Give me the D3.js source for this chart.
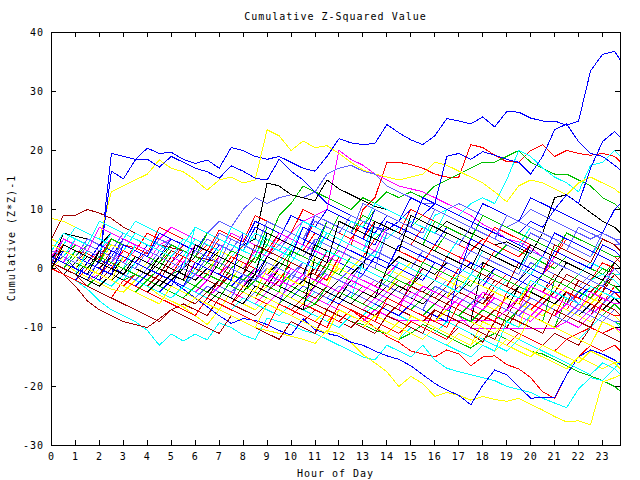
<!DOCTYPE html>
<html><head><meta charset="utf-8">
<script src="https://cdn.jsdelivr.net/npm/d3@7"></script>
<style>
body{margin:0;background:#fff}
text{font-family:"DejaVu Sans Mono",monospace;font-size:10px;letter-spacing:1px;fill:#000}
</style>
</head><body><svg id="chart" width="640" height="480"></svg>
<script>
const hours = [0,0.5,1,1.5,2,2.5,3,3.5,4,4.5,5,5.5,6,6.5,7,7.5,8,8.5,9,9.5,10,10.5,11,11.5,12,12.5,13,13.5,14,14.5,15,15.5,16,16.5,17,17.5,18,18.5,19,19.5,20,20.5,21,21.5,22,22.5,23,23.5,23.75];

const s00=[2,1,0,2,1,0,-1,1,0,-1,2,1,0,3,2,1,4,3,2,5,4,3,2,6,5,4,10,12,18,18,17.6,17,16,15.5,15.5,21,20.5,19.2,18.1,18,20,21,19,20,19.5,19.2,19.5,19,18.1];
const s01=[1,0,-1,-2,0,-1,-2,-1,-2,-3,-1,0,-1,-2,1,0,2,1,4,9,11,14,13,12,11,10,12,11,13,12,13,12,14,15,16,17,18,18,19,20,18,17,16,16,15,14,12,11,10];
const s02=[1,2,0,-1,1,19.5,19,18.5,20.4,19.5,19.7,18.5,17.8,18.4,17,20.5,20,19,18.5,19,18,17,16.5,19,22,21.3,21,21.2,24.4,23,21.8,21,22.5,25.4,25,24.5,25.7,24,26.6,26.5,25.5,25,25,24.3,25,33.5,36.3,36.8,35.3];
const s03=[3,2,4,3,2,1,3,2,1,4,5,4,3,2,5,4,3,6,5,4,6,8,9,10,20,18.5,17.5,16,15,14,13.5,13,12,11,10,9,7.5,6.5,5,4.5,3.5,2,1,0,-1,-2,-1,-2,-3];
const s04=[0,-1,-2,0,-1,-2,-3,-1,-2,0,-1,-2,1,0,-1,2,1,0,3,2,1,4,3,6,5,4,3,6,5,7,6,5,9,10,9,11,12,11,15,20,19,17,15.5,14.5,13,17.5,18,20,19];
const s05=[5,9,9,10,9.4,8.5,7,6,5,4,3.5,3,2,1.5,1,0,-1,2,1,0,-1,-2,0,-1,-2,-3,-1,-2,-3,-4,-2,-3,-4,-5,-3,-4,-5,-2,-3,-4,-5,-6,-4,-5,-6,-7,-5,-6,-7];
const s06=[8.5,8,7,6,5,13,14,15,16,18.4,17,16.4,15,13.3,15,15.5,14.5,15,23.5,22.5,20,21.6,20.5,20.8,19.5,18,16.7,16,15.5,15,15.5,16,18,17.5,16.5,15.5,14.5,13,11.3,14,15,14.5,13.5,12.5,14.5,15.5,14.5,13.5,12.7];
const s07=[2,1,0,-1,1,0,2,1,0,3,2,4,3,6,8,7,10,12,11,12,12.5,12,13,16,17,17.5,16.5,16,14,13,12,11,11,10,11,10,9,8,7,8,10,9,8,7,6,5,6,5,4];
const s08=[2,3,2,1,0,2,1,0,3,2,1,0,2,4,3,2,4,5,14.5,14,12.5,12,11.5,15,13.5,12.5,11.5,10.5,10,9,8,7,6,8,7,6,5,4,4.5,3.5,2.5,6,12,12.5,11,9.5,8,7,6];
const s09=[3,2,1,0,-1,1,0,-1,-2,0,-1,-2,-3,-1,-2,-3,-4,-2,-3,-4,-5,-3,-4,-5,-6,-7,-8.5,-10,-11.5,-12.5,-14,-14.5,-15,-13.8,-14.5,-16.5,-15,-14.8,-16.3,-17,-18.5,-20.9,-22,-18,-15,-13,-14,-13,-14];
const s10=[2,1,0,-1,-2,0,-1,-2,-3,-4,-2,-3,-4,-5,-3,-4,-5,-6,-4,-5,-6,-7,-6,-7,-8,-9,-9.5,-10.5,-11,-12,-11,-9.5,-10.5,-11.5,-12.5,-13.5,-12,-11,-12,-13,-14,-14.5,-15.5,-16.5,-17.5,-18.2,-19,-20,-20.8];
const s11=[2,1,3,2,1,16.5,15.2,18.4,18.5,17.2,19,18,17,16.4,15.3,17.4,16.5,15.3,15,18.5,16.5,15,13,11,10,9,8,7,6.5,8,10,9,11,19,19.5,18.5,19.8,19.2,18.5,18,16,19,23.5,24.5,21.5,19.5,19,17.5,16.7];
const s12=[1,0,-1,-2,-1,-2,-3,-4,-2,-3,-4,-5,-3,-4,-2,-3,-4,-5,-6,-4,-5,-6,-3,-4,-5,-6,-7,-5,-6,-7,-2,0,-1,-2,-3,-1,-2,-3,-4,-2,-3,-4,-5,-3,-4,-5,-3,-4,-4];
const s13=[0,-1,-2,-3.5,-5.5,-7,-8,-9,-10.5,-13,-11.1,-12.3,-11.1,-12.1,-9.2,-10,-11.3,-12,-8.4,-9,-9.5,-10.5,-11,-12,-13,-14,-15,-15.5,-13,-14,-15,-13,-15.5,-16.9,-17.5,-18,-18.5,-19,-20,-20.5,-21,-22,-22.8,-23.6,-20.4,-18.5,-19,-17,-15.5];
const s14=[1,-1,-3,-5.5,-7,-8,-9,-9.5,-10,-8.5,-7,-6,-7,-8,-5,-6,-7,-8,-6,-7,-8,-9,-7,-8,-9,-10,-8,-9,-10,-11,-9,-10,-11,-12,-10,-11,-12.5,-9,-10,-11,-12,-13,-11,-12,-13,-10,-11,-12,-12.5];
const s15=[2,1,-0.5,-1.5,-2.5,-3.5,-4,-2,-3,-4.5,-5.5,-6.5,-8,-9.5,-7,-8,-9,-10,-10.5,-11,-11.5,-12,-12.7,-10.5,-11,-12.5,-14.6,-16,-17.5,-20,-18.3,-19.5,-21.7,-21,-21.5,-22.3,-21.7,-22.2,-22.5,-22,-23,-24,-25.1,-26,-25.8,-26.5,-19.2,-18.5,-18];
const s16=[3,2,1,3,2,1,0,2,1,0,-1,1,0,-1,2,1,0,-1,-2,1,0,-1,-2,0,-1,-2,1,0,-1,-2,-3,-1,-2,-3,-4,-2,-3,-4,-5,-3,-4,-5,-6,-4,-6,-7,-8,-6,-7];
const s17=[1,6,5.5,5,4,6,5,4,3,2,4,3,2,1,3,2,1,0,-1,1,0,-1,-2,1,0,-1,-2,-3,-1,-2,-3,-4,-2,-3,-4,-5,-6,-4,-5,-6,-7,-5,-6,-7,-8,-6,-7,-8,-8];
const s18=[4,3,2,5,4,3,2,1,3,2,1,0,-1,1,0,-1,-2,0,-1,-2,-3,-4,-2,-3,-4,-5,-3,-4,-5,-6,-4,-5,-6,-7,-5,-6,-7,-4,-5,-6,-7,-5,-6,-7,-4,-5,-6,-3,-4];
const s19=[3,2,4,3,2,1,0,2,1,0,3,2,1,0,-1,1,0,-1,-2,-3,-1,-2,-3,0,-1,-2,-3,-4,-2,-3,-4,-5,-3,-4,-5,-6,-4,-5,-6,-7,-8,-6,-7,-8,-9,-7,-8,-9,-9.5];
const s20=[1,0,-1,-2,1.5,0.5,-1,-2,-3,-4,-2,-3.5,-5,-6.5,-8,-9.3,-8.5,-8.8,-9.5,-10.5,-11.3,-8.5,-10.4,-11,-11.5,-12.5,-13,-14,-14.8,-15.4,-16.5,-18,-19.5,-20.6,-21.5,-23.1,-19.8,-17.2,-18,-20,-22,-21.8,-21.9,-18,-15,-13.8,-14.5,-15.5,-16.3];
const s21=[2,1,0,-1,1,0,-1,-2,0,-1,-2,-3,-4,-2,-3,-4,-2,-3,-4,-5,-3,-4,-5,-6,-4,-5,-6,-7,-5,-6,-7,-8,-6,-7,-8,-10.1,-10.1,-10.1,-10.1,-10.1,-10.1,-10.1,-10.1,-9,-10,-8,-9,-10,-10.5];
const s22=[2,1,3,2,1,0,2,1,0,-1,-2,0,-1,-2,-3,-1,-2,-3,-4,-2,-3,-4,-5,-6,-4,-5,1,0,-1,1,0,-1,-2,-3,-1,-2,-3,-4,-2,-3,-4,-5,-6,-4,-5,-6,-7,-5,-6];
const s23=[0,-1,-2,0,-1,-2,-3,-4,-2,-3,-4,-5,-6,-4,-5,-6,-3,-4,-5,-6,-7,-5,-6,-7,-4,-5,-6,-7,-8,-6,-7,-8,-9,-6,-7,-8,-9,-7,-8,-5,-6,-7,-8,-6,-7,-8,-4,-5,-6];
const s24=[1,0,-1,-2,-3,-1,-2,-3,-4,-5,-6,-7,-5,-6,-7,-4,-5,-6,-7,-8,-6,-7,-8,-9,-7,-8,-9,-10,-11,-9,-10,-11,-12,-13,-11,-12,-13,-14,-12,-13,-14,-15,-16,-17,-15,-16,-17,-16,-17];
const s25=[4,3,2,5,4,3,6,5,4,3,5,4,3,2,6,5,4,3,2,4,3,2,5,4,3,2,1,3,2,1,0,3,2,1,0,-1,1,0,-1,-2,1,0,-1,-2,-3,-1,-2,-3,-3];
const s26=[0,-1,1,0,-1,-2,0,-1,-2,-3,-1,-2,-3,-4,-2,-3,-4,-1,-2,-3,-4,-5,-3,-4,-5,-2,-3,-4,-5,-3,-4,-5,-6,-4,-5,-6,-7,-5,-6,-7,-5,-6,-7,-8,-6,-7,-8,-6,-7];
const s27=[2,5,4,3,2,5,4,3,6,5,4,3,2,4,3,6,5,4,3,6,5,4,8,7,6,5,8,7,6,5,4,7,6,5,4,3,5,4,3,2,4,3,2,6,5,4,3,2,1];
const s28=[1,0,2,4,3,2,1,3,2,1,0,2,1,3,2,1,0,2,1,0,3,2,1,0,4,3,2,5,7,6,5,4,3,6,5,4,3,2,4,3,2,1,0,2,1,0,-1,1,0];
const s29=[3,2,1,4,3,2,5,4,3,2,1,3,2,1,4,3,6,5,4,3,6,5,4,8,7,6,5,4,8,7,6,5,4,7,6,5,9,8,7,6,8,7,10,12.5,11,17,21.5,23.2,22.2];
const s30=[4,3,2,1,3,5,4,3,2,5,7,6,5,4,3,6,5,4,3,2,4,3,2,1,3,2,1,0,-1,1,0,-1,-2,0,-1,-2,-3,-1,-2,-3,-4,-5,-3,-4,-5,-3,-4,-5,-5];
const s31=[5,4,7,6,5,4,3,6,5,4,3,2,5,4,3,2,4,3,2,1,4,3,2,6,5,4,3,8,7,6,5,4,3,2,5,4,3,2,1,0,3,2,1,0,-1,1,0,-1,-1];
const s32=[3,2,1,3,2,5,4,3,2,1,3,2,1,0,2,1,0,-1,2,1,0,-1,-2,1,0,-1,-2,-3,-1,-2,-3,0,-1,-2,-3,-1,-2,-3,-4,-2,-3,-4,-1,-2,-3,-4,-2,-3,-4];
const s33=[3,2,1,0,2,1,0,-1,1,0,-1,-2,0,-1,3,2,1,0,-1,2,1,0,-1,-2,0,-1,-2,-3,-4,-2,-3,-4,-5,-3,-4,-5,-6,-7,-5,-6,-7,-8,-6,-7,-8,-9,-7,-8,-9];
const s34=[1,0,-1,-2,0,-1,-2,-3,-1,-2,-3,-4,-5,-3,-4,-5,-6,-4,-5,-6,-1,1,0,-1,-2,0,-1,-2,-3,-1,-2,-3,-4,-2,-3,-4,-2,-3,-4,-5,-3,-4,-5,-6,-4,-5,-6,-4,-5];
const s35=[2,1,0,2,1,0,-1,1,0,-1,-2,0,-1,-2,-3,-1,-2,-3,-4,-2,-3,-4,-5,-3,-4,-5,-6,-4,-5,-6,-7,-8,-6,-7,-8,-9,1,0,-1,-2,0,-1,-2,-3,-1,-2,-3,-1,-2];
const s36=[3,2,1,0,3,2,1,4,3,2,1,4,3,2,5,4,3,7,6,5,4,3,6,5,4,3,2,5,4,3,2,1,4,3,2,1,0,3,2,1,0,-1,1,0,-1,-2,1,0,-1];
const s37=[2,1,0,3,2,1,4,3,2,1,4,3,2,1,0,3,2,1,5,4,3,7,6,5,9,8,7,10,9,8,7,9,8,7,6,5,4,3,2,1,0,2,1,0,-1,-2,0,-1,-2];
const s38=[3,2,5,4,3,2,5,4,3,2,5,4,3,6,5,4,3,7,6,5,9,8,7,10,9,8,7,6,9,8,12,11,10,9,8,7,11,10,9,8,12,11,10,9,8,7,6,10,11];
const s39=[2,1,0,-1,-2,0,-1,-2,-3,-1,-2,-3,-4,-5,-3,-4,-5,-6,-4,-5,-6,-7,-5,-6,-7,-8,-9,-7,-8,-8.8,-8.8,-8.8,-8.8,-8.8,-8.8,-8.8,-8.8,-8.8,-7,-8,-9,-7,-8,-9,-10,-8,-9,-10,-10];
const s40=[1,0,-1,1,0,-1,-2,1,0,-1,-2,-3,0,-1,-2,-3,-4,-2,-3,-4,-5,-6,-4,-5,-6,-7,-8,-6,-7,-8,-9,-10,-11,-9,-10,-11,-12,-13,-14,-12,-13,-14,-15,-16,-17,-18,-16,-17,-18];
const s41=[2,1,0,-1,1,0,-1,-2,0,-1,-2,-3,-1,-2,-3,-1,-2,-3,-4,-2,-3,-4,-5,-3,-4,-5,-6,-4,-5,-6,-3,-4,-5,-6,-4,-5,-6,-3,-4,-5,-2,-3,-4,-1,-2,-3,-4,-1,-2];
const s42=[5,4,3,2,1,4,3,2,1,0,-1,2,1,0,-1,-2,1,0,-1,-2,-3,-1,-2,-3,1,0,2,1,0,-1,1,0,-1,-2,-3,-1,-2,-3,-4,-5,-3,-4,-5,-6,-7,-5,-6,-7,-8];
const s43=[2,1,0,3,2,1,4,3,2,5,4,3,2,5,4,3,6,5,4,3,6,5,8,7,6,9,8,7,6,5,8,7,6,5,4,7,6,5,4,3,6,5,4,3,7,6,5,4,4];
const s44=[1,0,-1,1,0,-1,2,1,0,-1,-2,0,-1,-2,1,0,-1,-2,-3,0,-1,-2,-3,-4,-2,-3,-4,-5,-3,-4,-5,-6,-4,-5,-6,-7,-5,-6,-7,-3,-4,-5,-6,-4,-5,-6,-7,-5,-6];
const s45=[0,-1,-2,0,-1,-2,-3,-1,-2,-3,-4,-5,-3,-4,-5,-6,-4,-5,-6,-7,-8,-6,-7,-8,-9,-7,-8,-9,-10,-11,-9,-10,-11,-12,-9,-10,-11,-12,-13,-11,-12,-13,-14,-12,-11,-10,-11,-10,-11];
const s46=[4,3,2,1,4,3,2,1,0,2,1,0,-1,1,0,-1,-2,0,-1,-2,-3,-4,-2,-3,-4,-5,-3,-4,-5,-6,-7,-5,-6,-7,-8,-6,-7,-8,-9,-7,-8,-9,-10,-5,-6,-7,-8,-6,-7];
const s47=[0,-1,-2,1,0,-1,-2,-3,-1,-2,-3,1,0,-1,-2,-3,-1,-2,-3,-4,-5,-3,-4,-5,-6,-4,-5,-6,-7,-8,-6,-7,-8,-9,-1,1,0,-1,-2,-3,-1,-2,-3,-4,-5,-3,-4,-5,-6];
const s48=[3,2,1,4,3,2,1,3,2,1,0,2,1,0,-1,1,0,-1,-2,0,-1,-2,-3,-1,-2,-3,-4,-2,-3,-4,-5,-3,-4,-5,-6,-4,-5,-6,-7,-5,-6,-7,-8,-6,-7,-8,-6,-7,-8];
const s49=[3,6,5,4,3,6,5,8,7,6,5,4,7,6,5,4,3,6,5,4,3,7,6,5,4,8,7,11,10,9,8,7,6,10,9,8,7,6,5,4,7,6,5,4,3,2,5,4,3];
const s50=[2,1,0,-1,-2,0,-1,-2,-3,-1,-2,-3,-4,-5,-2,-3,-4,-5,-2,-3,-4,-5,-6,-4,-5,-6,-7,-8,-6,-7,-8,-9,-7,-8,-9,-10,-8,-9,-10,-7,-8,-9,-10,-8,-9,-10,-8,-9,-9];
const s51=[2,1,0,3,2,1,0,-1,1,0,-1,-2,-3,-1,-2,-3,-4,-5,-3,-4,-5,-6,-2,-3,-4,-5,-6,-7,-5,-6,-7,-8,-9,-7,-8,-9,-10,-11,-9,-10,-4,-5,-3,-4,-5,-6,-4,-5,-5];
const s52=[1,0,-1,-2,-3,-1,-2,-3,-4,-2,-3,-4,-5,-3,-4,-5,-1,-2,0,-1,-2,1,0,-1,-2,-3,-1,-2,-3,-4,-5,-3,-4,-5,-6,-7,-5,-6,-7,-8,-6,-7,-8,-9,-7,-8,-9,-7,-8];
const s53=[3,2,1,0,3,2,1,0,-1,1,0,-1,-2,0,-1,-2,-3,-1,-2,-3,-4,-2,-3,-4,-5,-6,-4,-5,0,2,1,0,-1,1,0,-1,-2,0,-1,-2,-3,-1,-2,-3,-1,-2,-3,-4,-4];
const s54=[1,4,3,2,1,0,3,2,1,0,-1,2,1,0,-1,2,1,0,-1,-2,1,0,-1,-2,2,1,0,-1,-2,1,0,-1,-2,-3,0,-1,-2,-3,-1,-2,-3,-4,-2,-3,-4,-5,-3,-4,-5];
const s55=[0,-1,-2,-3,-1,-2,-3,-4,-2,-3,-4,-5,-3,-4,-5,-2,-3,-4,-5,-6,-4,-5,-6,-3,-4,-5,-6,-7,-5,-6,-7,-8,-6,-7,-8,-9,-7,-8,-9,-10,-8,-9,-2,-3,-1,-2,-3,-4,-4];
const s56=[4,3,2,1,4,3,2,1,4,3,2,1,0,3,2,1,0,-1,2,1,0,-1,3,2,1,0,-1,2,1,0,-1,-2,1,0,-1,-2,-3,0,-1,-2,-3,-1,-2,-3,-4,-2,-3,-4,-4];
const s57=[1,0,3,2,1,0,-1,2,1,0,-1,-2,1,0,-1,-2,-3,0,-1,-2,-3,-1,-2,-3,-4,-2,-3,-4,-5,-6,-4,-5,-6,-7,-5,-6,-7,-5,-6,-7,-8,-6,-7,-8,-9,-7,-8,-9,-9];
const s58=[2,1,0,-1,-2,-3,-1,-2,-3,-4,-5,-3,-4,-5,-6,-7,-5,-6,-7,-8,-6,-7,-8,-9,-10,-8,-9,-10,-11,-12,-10,-11,-12,-13,-14,-15,-13,-14,-9,-10,-8,-9,-10,-11,-12,-10,-8,-9,-10];
const s59=[4,3,2,1,0,3,2,1,0,-1,2,1,0,-1,-2,1,0,-1,-2,-3,0,-1,-2,-3,-4,-1,-2,-3,-4,-2,-3,-4,-5,-3,-4,-5,-6,-4,-5,-6,-3,-4,-5,-6,-2,-3,-4,1,2];
const s60=[1,0,-1,-2,0,-1,-2,-3,-4,-2,-3,-4,-5,-6,-4,-5,-6,-7,-5,-6,-7,-8,-9,-7,-8,-9,-10,-8,-9,-10,-11,-12,-10,-11,-12,-13,-11,-12,-13,-14,-15,-13,-14,-15,-16,-14,-15,-16,-16];
const s61=[2,1,0,-1,1,0,-1,-2,0,-1,-2,-3,-1,-2,-3,-4,-2,-3,-4,-1,-2,-3,-4,-5,-3,-4,-5,-6,-4,-5,-6,-7,-3,-4,-5,-6,-4,-5,-6,-7,-5,-6,-7,-8,-6,-7,-8,-9,-9];
const s62=[1,0,-1,-2,-3,-1,-2,-3,-4,-2,-3,-4,-5,-6,-4,-5,-6,-3,-4,-5,-6,-7,2,1,0,-1,1,0,-1,-2,-3,-1,-2,-3,-4,-2,-3,-4,-5,-3,-4,-5,-6,-4,-5,-6,-7,-5,-6];
const s63=[2,4,3,2.5,1.5,5,4,3.5,2.5,7,6,5,4,3,6.5,5.5,4.5,9,8,7,6,10,9,8,7,6,5,8,7,6,10,9,8,7,6,5,4,7,6,5,4,3,2,5,4,3,2,1,0];
const s64=[1,0,3,2,1,5,4,3,2,1,4,3,2,6,5,4,3,2,7,6,5,4,3,8,7,6,9,8,7,6,5,4,8,7,6,5,9,8,7,6,5,4,3,6,5,4,3,2,2];
const s65=[0,3,2,1,0,-1,4,3,2,6,5,4,3,2,1,5,4,8,7,6,5,4,9,8,7,6,5,10,9,8,7,12,11,10,9,8,7,6,5,4,3,2,6,5,4,3,2,1,0];
const s66=[2,1,5,4,8,7,6,5,4,3,2,1,4,3,2,1,0,3,2,6,5,4,3,2,1,5,4,3,7,6,5,4,3,2,1,5,4,3,2,1,0,-1,2,1,0,-1,-2,0,-1];
const s67=[1,0,-1,3,2,1,0,4,3,2,1,0,7,6,5,4,3,2,6,5,4,8,7,6,5,4,3,2,6,5,4,3,2,1,0,-1,3,2,1,0,-1,2,1,0,-1,-2,-1,-2,-3];
const s68=[3,2,1,0,-1,2,1,0,-1,-2,1,0,-1,-2,-3,0,-1,4,3,2,1,0,-1,3,2,1,0,-1,-2,1,0,-1,-2,2,1,0,-1,-2,-3,1,0,-1,4,3,2,1,5,4,3];
const s69=[0,2,1,0,-1,-2,2,1,0,-1,-2,-3,1,0,-1,-2,-3,-4,0,-1,-2,-3,2,1,0,-1,-2,-3,-4,-1,-2,-3,-4,-5,-1,-2,-3,-4,-5,-6,-2,-3,-4,-5,-6,-3,-4,-5,-5];
const s70=[1,5,4,3,2,1,5,4,3,2,1,0,3,2,1,5,4,3,8,7,6,5,9,8,7,6,11,10,9,8,7,6,10,9,8,7,6,5,9,8,7,6,5,4,3,2,6,5,5];
const s71=[2,1,0,-1,3,2,1,0,-1,2,1,0,-1,-2,1,0,-1,-2,2,1,0,-1,4,3,2,1,0,8,7,6,5,4,3,2,1,0,4,3,2,1,0,-1,-2,1,0,-1,-2,-3,-3];
const s72=[0,-1,-2,-3,-4,-5,-2,-3,-4,-5,-6,-7,-8,-5,-6,-7,-8,-9,-10,-6,-7,-8,-9,-10,-6,-7,-8,-9,-5,-6,-7,-8,-9,-10,-6,-7,-8,-9,-4,-5,-6,-7,-8,-4,-5,-6,-7,-8,-8];
const s73=[3,2,1,0,2,1,0,-1,-2,0,-1,-2,-3,-1,-2,-3,-4,-2,-3,-4,3,2,1,0,-1,2,1,0,-1,-2,-3,1,0,-1,-2,-3,0,-1,-2,-3,-4,-1,-2,-3,-4,-5,-2,-3,-4];
const s74=[2,1,0,-1,-2,3,2,1,0,-1,-2,-3,1,0,-1,-2,6,5,4,3,2,7,6,5,4,3,2,1,0,4,3,2,1,0,-1,5,4,3,2,1,0,-1,3,2,1,0,4,3,2];
const s75=[2,5,4,3,7,6,5,4,3,2,1,0,-1,-2,2,1,0,-1,-2,-3,0,-1,-2,-3,-4,-1,-2,-3,-4,-5,-6,-3,-4,-5,-6,-7,-4,-5,-6,-7,-3,-4,-5,-6,-7,-4,-5,-6,-6];
const s76=[3,2,5,4,8,7,6,5,4,3,2,5,4,3,2,7,6,5,4,3,2,1,0,3,2,1,0,-1,-2,1,0,-1,-2,-3,-4,-1,-2,-3,-4,-5,-2,-3,-4,-5,-6,-3,-4,-5,-5];
const s77=[1,0,-1,-3,-4,-5,-6,-7,-8,-9,-7,-8,-9,-10,-11,-8,-9,-10,-11,-12,-9,-10,-11,-7,-8,-9,-10,-11,-8,-9,-10,-11,-7,-8,-9,-10,-11,-12,-8,-9,-10,-11,-7,-8,-9,-10,-6,-7,-8];
const s78=[4,3,2,0,-1,-2,-3,-4,-5,-6,-3,-4,-5,-6,-7,-8,-9,-10,-6,-7,-8,-9,-10,-11,-7,-8,-9,-10,-11,-12,-8,-9,-10,-11,-12,-13,-9,-10,-11,-12,-8,-9,-10,-11,-12,-13,-9,-10,-11];
const s79=[3,2,1,4,3,2,1,0,3,2,1,0,-1,2,1,0,-1,-2,1,0,-1,-2,5,4,3,2,1,0,6,5,4,3,2,1,0,3,2,1,0,-1,3,2,1,0,-1,-2,-3,0,-1];
const s80=[0,4,3,2,1,0,-1,2,1,0,-1,-2,4,3,2,1,0,-1,6,5,4,3,2,1,8,7,6,5,4,3,9,8,7,6,5,4,3,2,1,0,4,3,2,1,0,-1,-2,1,0];

const allSeries=[s00,s01,s02,s03,s04,s05,s06,s07,s08,s09,s10,s11,s12,s13,s14,s15,s16,s17,s18,s19,s20,s21,s22,s23,s24,s25,s26,s27,s28,s29,s30,s31,s32,s33,s34,s35,s36,s37,s38,s39,s40,s41,s42,s43,s44,s45,s46,s47,s48,s49,s50,s51,s52,s53,s54,s55,s56,s57,s58,s59,s60,s61,s62,s63,s64,s65,s66,s67,s68,s69,s70,s71,s72,s73,s74,s75,s76,s77,s78,s79,s80];

const xTickValues=[0,1,2,3,4,5,6,7,8,9,10,11,12,13,14,15,16,17,18,19,20,21,22,23];
const yTickValues=[-30,-20,-10,0,10,20,30,40];
const titleText="Cumulative Z-Squared Value";
const xLabelText="Hour of Day";
const yLabelText="Cumulative (Z*Z)-1";

const palette=["#ff0000","#00c000","#0000ff","#ff00ff","#00ffff","#a00000","#ffff00","#6060ff","#000000"];

const svg=d3.select("#chart");
svg.append("rect").attr("width",640).attr("height",480).attr("fill","#fff");
const L=51,R=620,T=32,B=445;
const x=d3.scaleLinear().domain([0,23.75]).range([L,R]);
const y=d3.scaleLinear().domain([-30,40]).range([B,T]);

svg.append("defs").append("clipPath").attr("id","plotclip")
  .append("rect").attr("x",L).attr("y",T).attr("width",R-L+1).attr("height",B-T+1);

const line=d3.line().x((d,i)=>x(hours[i])+0.5).y(d=>y(d)+0.5);
const g=svg.append("g").attr("clip-path","url(#plotclip)");
allSeries.forEach((s,i)=>{
  g.append("path").attr("d",line(s.slice(0,hours.length)))
   .attr("fill","none").attr("stroke",palette[i%palette.length])
   .attr("stroke-width",1).attr("shape-rendering","crispEdges");
});

svg.append("rect").attr("x",L+0.5).attr("y",T+0.5).attr("width",R-L).attr("height",B-T)
  .attr("fill","none").attr("stroke","#000").attr("stroke-width",1).attr("shape-rendering","crispEdges");

function styleAxis(sel){
  sel.select(".domain").remove();
  sel.selectAll(".tick line").attr("stroke","#000").attr("shape-rendering","crispEdges");
  sel.attr("font-family",null).attr("font-size",null);
}
svg.append("g").attr("transform",`translate(0,${B})`)
  .call(d3.axisBottom(x).tickValues(xTickValues).tickSize(-5).tickPadding(8).tickFormat(d=>String(d)))
  .call(styleAxis);
svg.append("g").attr("transform",`translate(0,${T})`)
  .call(d3.axisTop(x).tickValues(xTickValues).tickSize(-5).tickFormat(""))
  .call(styleAxis);
svg.append("g").attr("transform",`translate(${L},0)`)
  .call(d3.axisLeft(y).tickValues(yTickValues).tickSize(-5).tickPadding(7).tickFormat(d=>String(d)))
  .call(styleAxis);
svg.append("g").attr("transform",`translate(${R},0)`)
  .call(d3.axisRight(y).tickValues(yTickValues).tickSize(-5).tickFormat(""))
  .call(styleAxis);

svg.append("text").attr("x",335.5).attr("y",20).attr("text-anchor","middle").text(titleText);
svg.append("text").attr("x",335.5).attr("y",477).attr("text-anchor","middle").text(xLabelText);
svg.append("text").attr("transform","translate(15,238) rotate(-90)").attr("text-anchor","middle").text(yLabelText);
</script>
</body></html>
